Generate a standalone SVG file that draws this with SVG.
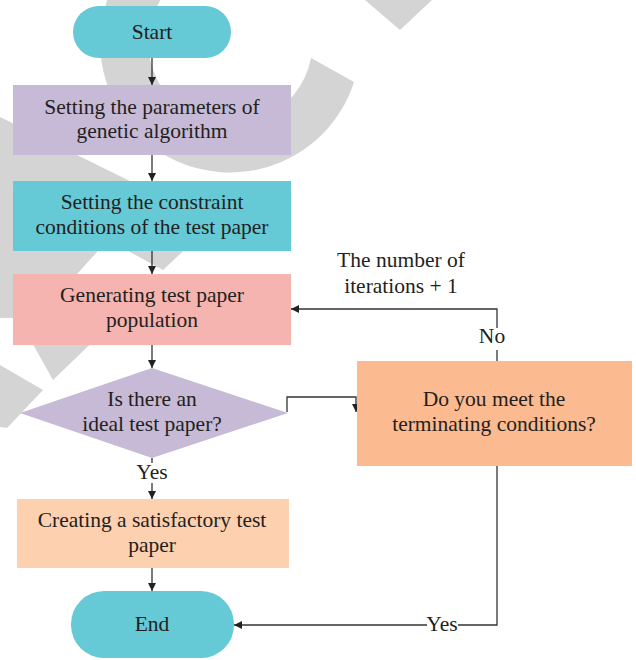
<svg xmlns="http://www.w3.org/2000/svg" width="636" height="660" viewBox="0 0 636 660">
<style>
.t{font-family:"Liberation Serif","Times New Roman",serif;font-size:21.5px;fill:#231f20;text-anchor:middle}
.ln{fill:none;stroke:#333;stroke-width:1.3}
.wm{fill:#d4d4d4}
</style>
<defs>
<marker id="ah" viewBox="0 0 10 10" refX="10" refY="5" markerWidth="8" markerHeight="8" markerUnits="userSpaceOnUse" orient="auto">
<path d="M0,0 L10,5 L0,10 Z" fill="#222"/>
</marker>
</defs>
<rect width="636" height="660" fill="#fff"/>
<g id="watermark">
<path class="wm" d="M165,-70 A130,130 0 1 0 354,82 L311,58 A82,82 0 1 1 189,-28 Z"/>
<polygon class="wm" points="365,0 400,30 432,0"/>
<polygon class="wm" points="0,117 140,186 0,186"/>
<polygon class="wm" points="0,178 100,245 97,252 77,274 40,318 0,318"/>
<polygon class="wm" points="110,241 194,241 163,270"/>
<polygon class="wm" points="25,330 105,330 53,380"/>
<polygon class="wm" points="0,365 43,390 7,428 0,427"/>
</g>
<g id="connectors">
<line class="ln" x1="152" y1="58" x2="152" y2="85" marker-end="url(#ah)"/>
<line class="ln" x1="152" y1="155" x2="152" y2="181" marker-end="url(#ah)"/>
<line class="ln" x1="152" y1="251" x2="152" y2="274" marker-end="url(#ah)"/>
<line class="ln" x1="152" y1="345" x2="152" y2="368" marker-end="url(#ah)"/>
<line class="ln" x1="152" y1="458" x2="152" y2="463"/>
<line class="ln" x1="152" y1="483" x2="152" y2="499" marker-end="url(#ah)"/>
<line class="ln" x1="152" y1="568" x2="152" y2="591" marker-end="url(#ah)"/>
<path class="ln" d="M287,412 V397 H356 V412" marker-end="url(#ah)"/>
<path class="ln" d="M497,361 V350"/>
<path class="ln" d="M497,328 V309 H291" marker-end="url(#ah)"/>
<path class="ln" d="M497,466 V625 H458"/>
<line class="ln" x1="427" y1="625" x2="234" y2="625" marker-end="url(#ah)"/>
<text class="t" x="152" y="479">Yes</text>
<text class="t" x="492" y="343">No</text>
<text class="t" x="442" y="631">Yes</text>
<text class="t" x="401" y="267">The number of</text>
<text class="t" x="401" y="293">iterations + 1</text>
</g>
<g id="start">
<rect x="73" y="6" width="158" height="52" rx="26" fill="#65c9d6"/>
<text class="t" x="152" y="39">Start</text>
</g>
<g id="params">
<rect x="13" y="85" width="278" height="70" fill="#c6bad6"/>
<text class="t" x="152" y="114">Setting the parameters of</text>
<text class="t" x="152" y="138">genetic algorithm</text>
</g>
<g id="constraint">
<rect x="13" y="181" width="278" height="70" fill="#65c9d6"/>
<text class="t" x="152" y="209">Setting the constraint</text>
<text class="t" x="152" y="234">conditions of the test paper</text>
</g>
<g id="generate">
<rect x="13" y="274" width="278" height="71" fill="#f5b4b0"/>
<text class="t" x="152" y="302">Generating test paper</text>
<text class="t" x="152" y="327">population</text>
</g>
<g id="ideal">
<polygon points="152,368 288,413 152,458 20,413" fill="#c6bad6"/>
<text class="t" x="152" y="406">Is there an</text>
<text class="t" x="152" y="431">ideal test paper?</text>
</g>
<g id="terminate">
<rect x="357" y="361" width="275" height="105" fill="#fbba90"/>
<text class="t" x="494" y="406">Do you meet the</text>
<text class="t" x="494" y="431">terminating conditions?</text>
</g>
<g id="create">
<rect x="17" y="499" width="272" height="69" fill="#fdd0b0"/>
<text class="t" x="152" y="527">Creating a satisfactory test</text>
<text class="t" x="152" y="552">paper</text>
</g>
<g id="end">
<rect x="71" y="591" width="163" height="67" rx="33" fill="#65c9d6"/>
<text class="t" x="152" y="631">End</text>
</g>
</svg>
